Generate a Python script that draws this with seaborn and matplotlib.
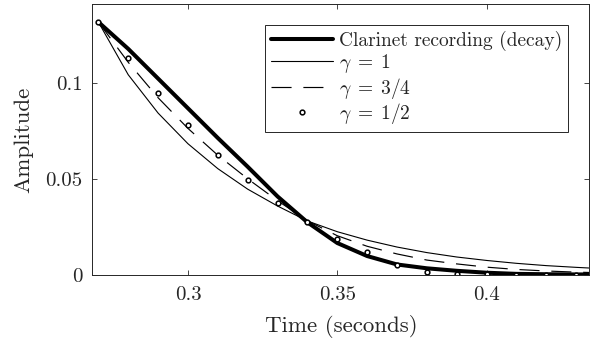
import numpy as np
import pandas as pd
import matplotlib
matplotlib.use("Agg")
import matplotlib.pyplot as plt
import seaborn as sns

# values (0.01 s steps)
time_s = [0.27, 0.28, 0.29, 0.30, 0.31, 0.32, 0.33, 0.34, 0.35,
          0.36, 0.37, 0.38, 0.39, 0.40, 0.41, 0.42, 0.43, 0.44]
clarinet = [0.132, 0.118, 0.1025, 0.087, 0.0715, 0.0565, 0.041, 0.0275, 0.0167,
            0.0099, 0.0055, 0.0035, 0.0022, 0.0012, 0.0006, 0.0004, 0.0003, 0.0003]
gamma_1 = [0.132, 0.1045, 0.0845, 0.0685, 0.0555, 0.0448, 0.036, 0.0282, 0.0226,
           0.0182, 0.0146, 0.0117, 0.0094, 0.0076, 0.0061, 0.0049, 0.0040, 0.0032]
gamma_34 = [0.132, 0.111, 0.0925, 0.0765, 0.0625, 0.0502, 0.0388, 0.0283, 0.0205,
            0.015, 0.011, 0.0078, 0.0058, 0.0041, 0.0029, 0.0021, 0.0015, 0.0011]
gamma_12 = [0.132, 0.113, 0.095, 0.0785, 0.0627, 0.0496, 0.0374, 0.0275, 0.0186,
            0.0118, 0.005, 0.0018, 0.0006, 0.0003, 0.0001, 0.0, 0.0, 0.0]

labels = ["Clarinet recording (decay)", r"$\gamma\;=\;1$", r"$\gamma\;=\;3/4$", r"$\gamma\;=\;1/2$"]
xticks = [0.3, 0.35, 0.4]
xtick_labels = ["0.3", "0.35", "0.4"]
yticks = [0, 0.05, 0.1]
ytick_labels = ["0", "0.05", "0.1"]

sns.set_style("ticks")
plt.rcParams["font.family"] = "serif"
plt.rcParams["font.serif"] = ["cmr10", "DejaVu Serif"]
plt.rcParams["mathtext.fontset"] = "cm"
plt.rcParams["axes.formatter.use_mathtext"] = True

df = pd.DataFrame({"t": time_s, "clar": clarinet, "g1": gamma_1,
                   "g34": gamma_34, "g12": gamma_12})

dark = "#262626"
fig = plt.figure(figsize=(5.98, 3.41), dpi=100)
ax = fig.add_axes([0.1545, 0.1935, 0.8310, 0.7947])

sns.lineplot(data=df, x="t", y="clar", ax=ax, color="black", lw=2.9, label=labels[0])
sns.lineplot(data=df, x="t", y="g1", ax=ax, color="black", lw=0.8, label=labels[1])
sns.lineplot(data=df, x="t", y="g34", ax=ax, color="black", lw=0.85,
             linestyle=(0, (17, 10)), label=labels[2])
sns.lineplot(data=df, x="t", y="g12", ax=ax, color="black", linestyle="none",
             marker="o", markersize=3.4, markerfacecolor="white",
             markeredgecolor="black", markeredgewidth=1.1, label=labels[3])

ax.set_xlim(0.268, 0.4344)
ax.set_ylim(0, 0.1414)
ax.set_xticks(xticks)
ax.set_xticklabels(xtick_labels)
ax.set_yticks(yticks)
ax.set_yticklabels(ytick_labels)
ax.tick_params(direction="in", top=True, right=True, length=3.5, width=0.6,
               color=dark, labelcolor=dark, labelsize=15)
ax.tick_params(axis="x", pad=8)
ax.tick_params(axis="y", pad=7)
for s in ax.spines.values():
    s.set_color(dark)
    s.set_linewidth(0.7)

ax.set_xlabel("Time (seconds)", fontsize=16.5, color=dark, labelpad=8)
ax.set_ylabel("Amplitude", fontsize=16.5, color=dark, labelpad=9)

leg = ax.legend(loc="upper right", bbox_to_anchor=(568 / 598, 1 - 25 / 341),
                bbox_transform=fig.transFigure, borderaxespad=0,
                fontsize=14, frameon=True, fancybox=False,
                handlelength=3.2, handletextpad=0.3, labelspacing=0.04,
                borderpad=0.3, numpoints=1)
leg.get_frame().set_edgecolor(dark)
leg.get_frame().set_linewidth(0.7)
leg.get_frame().set_alpha(1)

fig.savefig("out.png", dpi=100)
